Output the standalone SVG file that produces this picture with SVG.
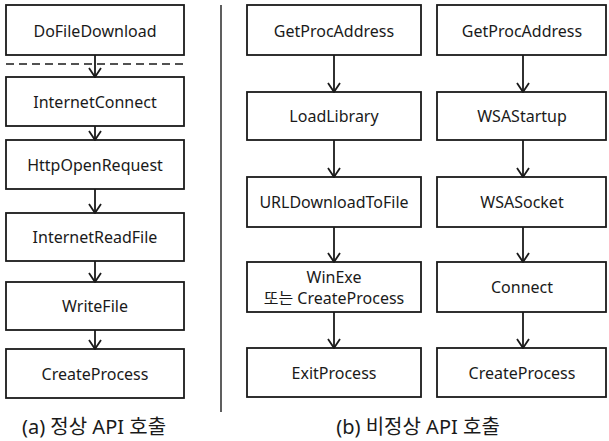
<svg xmlns="http://www.w3.org/2000/svg" width="609" height="441" viewBox="0 0 609 441">
<style>
.box{fill:#fff;stroke:#1a1a1a;stroke-width:1.8}
.lbl{font-family:"Noto Sans","Noto Sans CJK KR",sans-serif;font-size:16px;fill:#1a1a1a;text-anchor:middle;dominant-baseline:central}
.cap{font-family:"Noto Sans","Noto Sans CJK KR",sans-serif;font-size:20px;fill:#1a1a1a;text-anchor:middle}
.con{stroke:#1a1a1a;stroke-width:1.8;fill:none}
</style>
<defs>
<marker id="ah" viewBox="0 0 12 14" refX="11" refY="7" markerWidth="12" markerHeight="14" markerUnits="userSpaceOnUse" orient="auto">
<path d="M2,1 L11,7 L2,13" fill="none" stroke="#1a1a1a" stroke-width="1.8"/>
</marker>
</defs>
<rect width="609" height="441" fill="#fff"/>
<g id="nodes-a">
<g id="a1"><rect class="box" x="6" y="5" width="178" height="50"/><text class="lbl" x="95" y="31">DoFileDownload</text></g>
<g id="a2"><rect class="box" x="6" y="77" width="178" height="49"/><text class="lbl" x="95" y="102">InternetConnect</text></g>
<g id="a3"><rect class="box" x="6" y="140" width="178" height="49"/><text class="lbl" x="95" y="165">HttpOpenRequest</text></g>
<g id="a4"><rect class="box" x="6" y="213" width="178" height="48"/><text class="lbl" x="95" y="237">InternetReadFile</text></g>
<g id="a5"><rect class="box" x="6" y="282" width="178" height="48"/><text class="lbl" x="95" y="306">WriteFile</text></g>
<g id="a6"><rect class="box" x="6" y="349" width="178" height="49"/><text class="lbl" x="95" y="374">CreateProcess</text></g>
</g>
<g id="nodes-b">
<g id="b1"><rect class="box" x="247" y="5" width="174" height="50"/><text class="lbl" x="334" y="31">GetProcAddress</text></g>
<g id="b2"><rect class="box" x="247" y="92" width="174" height="48"/><text class="lbl" x="334" y="116">LoadLibrary</text></g>
<g id="b3"><rect class="box" x="247" y="177" width="174" height="50"/><text class="lbl" x="334" y="202">URLDownloadToFile</text></g>
<g id="b4"><rect class="box" x="247" y="262" width="174" height="50"/><text class="lbl" x="334" y="276.5">WinExe</text><text class="lbl" x="334" y="297.5">또는 CreateProcess</text></g>
<g id="b5"><rect class="box" x="247" y="348" width="174" height="49"/><text class="lbl" x="334" y="373">ExitProcess</text></g>
</g>
<g id="nodes-c">
<g id="c1"><rect class="box" x="437" y="5" width="169" height="50"/><text class="lbl" x="522" y="31">GetProcAddress</text></g>
<g id="c2"><rect class="box" x="437" y="92" width="169" height="48"/><text class="lbl" x="522" y="116">WSAStartup</text></g>
<g id="c3"><rect class="box" x="437" y="177" width="169" height="50"/><text class="lbl" x="522" y="202">WSASocket</text></g>
<g id="c4"><rect class="box" x="437" y="262" width="169" height="50"/><text class="lbl" x="522" y="287">Connect</text></g>
<g id="c5"><rect class="box" x="437" y="348" width="169" height="49"/><text class="lbl" x="522" y="373">CreateProcess</text></g>
</g>
<g id="connectors">
<line class="con" x1="95" y1="55" x2="95" y2="77" marker-end="url(#ah)"/>
<line class="con" x1="95" y1="126" x2="95" y2="140" marker-end="url(#ah)"/>
<line class="con" x1="95" y1="189" x2="95" y2="213" marker-end="url(#ah)"/>
<line class="con" x1="95" y1="261" x2="95" y2="282" marker-end="url(#ah)"/>
<line class="con" x1="95" y1="330" x2="95" y2="349" marker-end="url(#ah)"/>
<line class="con" x1="334" y1="55" x2="334" y2="92" marker-end="url(#ah)"/>
<line class="con" x1="334" y1="140" x2="334" y2="177" marker-end="url(#ah)"/>
<line class="con" x1="334" y1="227" x2="334" y2="262" marker-end="url(#ah)"/>
<line class="con" x1="334" y1="312" x2="334" y2="348" marker-end="url(#ah)"/>
<line class="con" x1="523" y1="55" x2="523" y2="92" marker-end="url(#ah)"/>
<line class="con" x1="523" y1="140" x2="523" y2="177" marker-end="url(#ah)"/>
<line class="con" x1="523" y1="227" x2="523" y2="262" marker-end="url(#ah)"/>
<line class="con" x1="523" y1="312" x2="523" y2="348" marker-end="url(#ah)"/>
</g>
<line x1="6" y1="64" x2="184" y2="64" stroke="#1a1a1a" stroke-width="1.6" stroke-dasharray="8,5"/>
<line x1="221" y1="5" x2="221" y2="412" stroke="#1a1a1a" stroke-width="1.4"/>
<text class="cap" x="94" y="434">(a) 정상 API 호출</text>
<text class="cap" x="418" y="434">(b) 비정상 API 호출</text>
</svg>
